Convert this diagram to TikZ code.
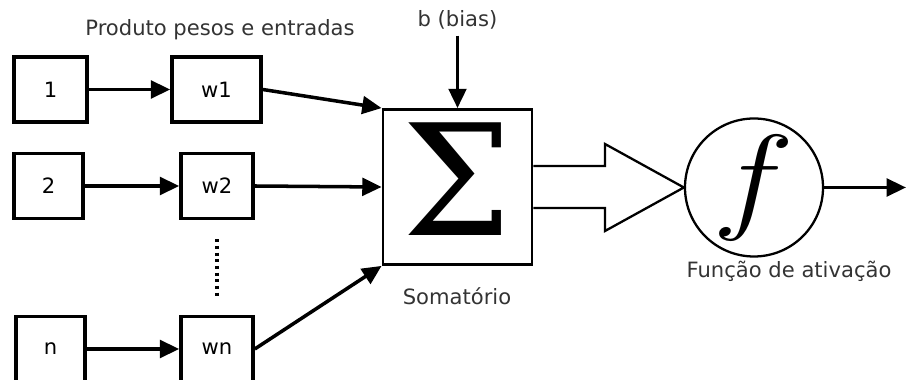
\documentclass[tikz,border=0pt]{standalone}
\usepackage{fontspec}
\setmainfont{DejaVu Sans}
\newfontfamily\somafont{DejaVu Serif}
\usetikzlibrary{arrows.meta,positioning}

\tikzset{
  caixa/.style={draw, line width=2pt, inner sep=0pt, minimum height=1.3cm},
  seta/.style={line width=2pt, -{Triangle[length=11pt,width=10pt]}},
  rotulo/.style={text=black!80},
}

\begin{document}
\begin{tikzpicture}[font=\fontsize{12}{14}\selectfont]
  \useasboundingbox (0,0) rectangle (18.14,7.6);
  \clip (0,0) rectangle (18.14,7.6);

%the inputs and their weights
    %the inputs
    \node[caixa, minimum width=1.46cm] (in1) at (1.01,5.81) {1};
    \node[caixa, minimum width=1.38cm] (in2) at (0.97,3.88) {2};
    \node[caixa, minimum width=1.38cm] (inn) at (1.01,0.62) {n};
    %the weights
    \node[caixa, minimum width=1.78cm] (w1) at (4.33,5.81) {w1};
    \node[caixa, minimum width=1.44cm] (w2) at (4.34,3.88) {w2};
    \node[caixa, minimum width=1.44cm] (wn) at (4.34,0.62) {wn};
    \node[rotulo] (produto) at (4.4,7.0) {Produto pesos e entradas};
    %the dots between w2 and wn
    \draw[dotted, line width=1.8pt] ([yshift=-0.38cm]w2.south) -- ([yshift=0.36cm]wn.north);

%the sum
    \node[caixa, line width=1.6pt, minimum width=2.98cm, minimum height=3.1cm] (soma)
        at (9.15,3.86) {};
    \node[inner sep=0pt] (sigma) at ([yshift=0.16cm]soma.center)
        {\fontsize{88}{88}\somafont Σ};
    \node[rotulo] (somatorio) at (9.14,1.68) {Somatório};
    \node[rotulo] (bias) at (9.15,7.2) {b (bias)};

%the activation
    \node[draw, circle, line width=1.3pt, inner sep=0pt, minimum size=2.76cm] (ativ)
        at (15.08,3.85) {};
    \node (fsimb) at (ativ.center) {\scalebox{6.6}[5.6]{$f$}};
    \node[rotulo] (funcao) at (15.78,2.18) {Função de ativação};
    \coordinate (saida) at (18.12,3.85);

%the arrows
    \begin{scope}[every path/.style={seta}]
       \draw (in1) -- (w1);
       \draw (in2) -- (w2);
       \draw (inn) -- (wn);
       \draw (w1.east) -- (soma.north west);
       \draw (w2.east) -- (soma.west);
       \draw (wn.east) -- (soma.south west);
       \draw (bias) -- (soma);
       \draw (ativ) -- (saida);
    \end{scope}
    %the hollow arrow into f
    \draw[line width=1.3pt, line join=miter]
        ([yshift=0.42cm]soma.east) -- (12.1,4.28) -- (12.1,4.72) -- (ativ.west)
        -- (12.1,2.98) -- (12.1,3.44) -- ([yshift=-0.42cm]soma.east);
\end{tikzpicture}
\end{document}
